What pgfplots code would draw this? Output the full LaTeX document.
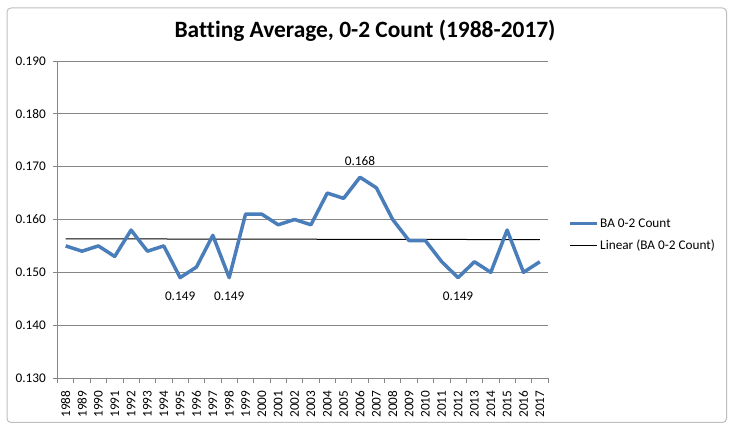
\documentclass[border=0pt]{standalone}
\usepackage{fontspec}
\setmainfont{Carlito}[Ligatures=CommonOff]
\usepackage{pgfplots}
\pgfplotsset{compat=1.18}
\definecolor{bablue}{HTML}{4A7EBB}
\definecolor{gridgray}{HTML}{868686}
\begin{document}
\begin{tikzpicture}[x=1bp,y=1bp]
\path[fill=white] (0,0) rectangle (735,433);
\draw[fill=white, draw=black!25, line width=1bp, rounded corners=4bp] (7,10.5) rectangle (726.5,425);
\node[anchor=base, inner sep=0pt, font=\fontsize{23.5}{27}\selectfont\bfseries] at (365,395.3) {Batting Average, 0-2 Count (1988-2017)};
\begin{axis}[
  at={(57.5bp,55bp)}, anchor=south west,
  scale only axis, width=490.5bp, height=317bp,
  xmin=-0.5, xmax=29.5, ymin=0.130, ymax=0.190,
  axis x line*=bottom, axis y line*=left,
  axis line style={gridgray, line width=0.8bp},
  ytick={0.130,0.140,0.150,0.160,0.170,0.180,0.190},
  ymajorgrids, major grid style={gridgray, line width=0.8bp},
  yticklabel style={/pgf/number format/fixed, /pgf/number format/fixed zerofill, /pgf/number format/precision=3, /pgf/number format/assume math mode=true},
  scaled y ticks=false,
  tick label style={font=\fontsize{13.3}{15}\selectfont, black},
  tick style={gridgray, line width=0.8bp},
  tick align=outside,
  major tick length=4.5bp,
  minor tick length=5bp,
  xtick={0,...,29},
  xticklabels={1988,1989,1990,1991,1992,1993,1994,1995,1996,1997,1998,1999,2000,2001,2002,2003,2004,2005,2006,2007,2008,2009,2010,2011,2012,2013,2014,2015,2016,2017},
  major x tick style={draw=none},
  minor xtick={-0.5,0.5,...,29.5},
  xticklabel style={rotate=90, anchor=east, inner sep=0pt, xshift=-8bp},
  yticklabel style={anchor=east, inner sep=0pt, xshift=-7bp},
  clip=false,
  legend style={at={(1.0408,0.452)}, anchor=west, draw=none, fill=none, font=\fontsize{13.3}{15}\selectfont, row sep=8bp, inner sep=0pt, nodes={inner sep=1.5bp}},
  legend cell align=left,
  legend image code/.code={\draw[#1] (0bp,0bp) -- (27bp,0bp);},
]
\addlegendimage{bablue, line width=3.5bp}
\addlegendentry{BA 0-2 Count}
\addlegendimage{black, line width=1bp}
\addlegendentry{Linear (BA 0-2 Count)}
\addplot[black, line width=1bp, forget plot] coordinates {(0,0.15634) (29,0.15619)};
\addplot[bablue, line width=3.5bp, line join=round, forget plot] coordinates {
(0,0.155) (1,0.154) (2,0.155) (3,0.153) (4,0.158) (5,0.154) (6,0.155) (7,0.149) (8,0.151) (9,0.157)
(10,0.149) (11,0.161) (12,0.161) (13,0.159) (14,0.160) (15,0.159) (16,0.165) (17,0.164) (18,0.168) (19,0.166)
(20,0.160) (21,0.156) (22,0.156) (23,0.152) (24,0.149) (25,0.152) (26,0.150) (27,0.158) (28,0.150) (29,0.152)};
\addplot[draw=none, forget plot, nodes near coords={0.149},
  every node near coord/.append style={anchor=center, yshift=-19bp, font=\fontsize{13.3}{15}\selectfont, black, inner sep=0pt}]
  coordinates {(7,0.149) (10,0.149) (24,0.149)};
\addplot[draw=none, forget plot, nodes near coords={0.168},
  every node near coord/.append style={anchor=center, yshift=16.4bp, font=\fontsize{13.3}{15}\selectfont, black, inner sep=0pt}]
  coordinates {(18,0.168)};
\end{axis}
\end{tikzpicture}
\end{document}
